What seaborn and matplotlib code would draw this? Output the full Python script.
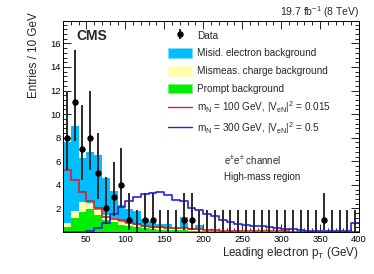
import numpy as np
import pandas as pd
import seaborn as sns
import matplotlib.pyplot as plt
import matplotlib.patches as mpatches
from matplotlib.lines import Line2D
from matplotlib.legend_handler import HandlerPatch
from matplotlib.ticker import MultipleLocator, FuncFormatter

# 10 GeV bins of leading electron pT (lower edges)
bin_lo = list(range(20, 400, 10))

# background components, entries per bin
misid = [6.9, 7.25, 3.75, 4.3, 4.6, 3.15, 2.35, 1.45, 1.25, 1.22,
         0.65, 0.5, 0.33, 0.35, 0.05, 0.98, 0.1, 0.4, 0.01, 0.0,
         0, 0, 0, 0, 0, 0, 0, 0, 0.01, 0,
         0, 0.01, 0.01, 0.04, 0.02, 0.02, 0.01, 0.02]
mismeas = [0.3, 0.55, 0.85, 0.5, 0.45, 0.45, 0.3, 0.25, 0.2, 0.18,
           0.15, 0.15, 0.15, 0.1, 0.1, 0.15, 0.08, 0.08, 0.06, 0.05,
           0.04, 0.04, 0.03, 0.03, 0.02, 0.02, 0.02, 0.02, 0.02, 0.02,
           0.02, 0.01, 0.01, 0.02, 0.02, 0.01, 0.01, 0.01]
prompt = [0.45, 1.2, 1.7, 1.95, 1.45, 1.0, 0.85, 0.6, 0.5, 0.4,
          0.3, 0.25, 0.2, 0.2, 0.15, 0.15, 0.12, 0.1, 0.08, 0.07,
          0.06, 0.05, 0.05, 0.04, 0.04, 0.03, 0.03, 0.03, 0.02, 0.02,
          0.02, 0.02, 0.02, 0.01, 0.01, 0.01, 0.01, 0.02]

# signal shapes
sig_100 = [5.25, 4.45, 3.4, 2.6, 2.0, 1.25, 1.1, 1.0, 0.85, 0.7,
           0.55, 0.45, 0.4, 0.35, 0.3, 0.3, 0.25, 0.25, 0.2, 0.15,
           0.12, 0.1, 0.1, 0.08, 0.07, 0.06, 0.05, 0.05, 0.05, 0.04,
           0.04, 0.04, 0.03, 0.03, 0.03, 0.03, 0.03, 0.04]
sig_300 = [0, 0, 0.02, 0.05, 0.3, 0.8, 1.5, 2.1, 2.6, 3.0,
           3.2, 3.3, 3.4, 3.15, 2.75, 2.6, 2.0, 1.85, 1.55, 1.33,
           1.05, 0.88, 0.7, 0.62, 0.52, 0.48, 0.4, 0.31, 0.25, 0.22,
           0.17, 0.12, 0.1, 0.09, 0.1, 0.08, 0.08, 0.8]

# observed events
data = [8, 11, 7, 8, 5, 2, 3, 4, 1, 0,
        1, 1, 0, 0, 0, 1, 1, 0, 0, 0,
        0, 0, 0, 0, 0, 0, 0, 0, 0, 0,
        0, 0, 0, 1, 0, 0, 0, 0]
# 68% Poisson intervals by observed count
pois_lo = [0, 0.173, 0.708, 1.367, 2.086, 2.840, 3.620, 4.419, 5.232, 6.057, 6.891, 7.734]
pois_hi = [1.841, 3.300, 4.638, 5.918, 7.163, 8.382, 9.584, 10.77, 11.95, 13.11, 14.27, 15.42]

c_misid, c_mismeas, c_prompt = '#00BEFF', '#FFFFAA', '#00EE00'
c_red, c_blue = '#E01E1E', '#2222E6'

sns.set_style('ticks')
plt.rcParams['font.family'] = ['Liberation Sans', 'DejaVu Sans']
plt.rcParams['mathtext.fontset'] = 'custom'
plt.rcParams['mathtext.rm'] = 'Liberation Sans'
plt.rcParams['mathtext.it'] = 'Liberation Sans:italic'
plt.rcParams['mathtext.bf'] = 'Liberation Sans:bold'

edges = bin_lo + [400]
centers = np.array(bin_lo) + 5

rows = []
for name, vals in [('Misid', misid), ('Mismeas', mismeas), ('Prompt', prompt)]:
    for x, w in zip(centers, vals):
        rows.append({'pt': x, 'w': w, 'proc': name})
bkg = pd.DataFrame(rows)

fig = plt.figure(figsize=(3.74, 2.74), dpi=100)
ax = fig.add_axes([63 / 374, 1 - 232 / 274, 296 / 374, 211 / 274])

sns.histplot(data=bkg, x='pt', weights='w', hue='proc',
             hue_order=['Misid', 'Mismeas', 'Prompt'], multiple='stack',
             bins=edges, element='step', fill=True, alpha=1, linewidth=0,
             palette=[c_misid, c_mismeas, c_prompt], legend=False, ax=ax)

sns.histplot(x=centers, weights=sig_100, bins=edges, element='step', fill=False,
             color=c_red, linewidth=1.2, ax=ax)
sns.histplot(x=centers, weights=sig_300, bins=edges, element='step', fill=False,
             color=c_blue, linewidth=1.2, ax=ax)

data = np.array(data)
lo = np.array([pois_lo[n] for n in data])
hi = np.array([pois_hi[n] for n in data])
zero = data == 0
ax.errorbar(centers[zero], data[zero], yerr=[data[zero] - lo[zero], hi[zero] - data[zero]],
            fmt='none', ecolor='#2a2a2a', elinewidth=1.4)
h_data = ax.errorbar(centers[~zero], data[~zero],
                     yerr=[data[~zero] - lo[~zero], hi[~zero] - data[~zero]],
                     fmt='o', color='black', ecolor='#2a2a2a', elinewidth=1.4,
                     markersize=3.6)

ax.set_xlim(20, 400)
ax.set_ylim(0, 17.9)
ax.xaxis.set_major_locator(MultipleLocator(50))
ax.xaxis.set_minor_locator(MultipleLocator(10))
ax.yaxis.set_major_locator(MultipleLocator(2))
ax.yaxis.set_minor_locator(MultipleLocator(0.4))
ax.yaxis.set_major_formatter(FuncFormatter(lambda v, p: '' if v == 0 else f'{v:g}'))
ax.tick_params(which='both', direction='in', top=True, right=True, width=0.6,
               labelsize=6.8, colors='black')
ax.tick_params(which='major', length=5.5)
ax.tick_params(which='minor', length=2.8)
ax.tick_params(axis='x', pad=2.5)
ax.tick_params(axis='y', pad=1.5)
for s in ax.spines.values():
    s.set_linewidth(0.7)
    s.set_color('black')

ax.set_xlabel('Leading electron p$_\\mathrm{T}$ (GeV)', fontsize=8.4, loc='right')
ax.xaxis.set_label_coords(1.0, -0.06)
ax.set_ylabel('Entries / 10 GeV', fontsize=8.4, loc='top')
ax.yaxis.set_label_coords(-0.078, 1.04)

ax.text(1.0, 1.024, '19.7 fb$^{-1}$ (8 TeV)', transform=ax.transAxes,
        ha='right', va='baseline', fontsize=7.5)
ax.text(0.044, 0.962, 'CMS', transform=ax.transAxes, ha='left', va='top',
        fontsize=10, fontweight='bold')
ax.text(0.544, 0.318, 'e$^{\\pm}$e$^{\\pm}$ channel', transform=ax.transAxes,
        ha='left', va='baseline', fontsize=7)
ax.text(0.544, 0.246, 'High-mass region', transform=ax.transAxes,
        ha='left', va='baseline', fontsize=7)


# legend boxes a bit shorter than the row height
def small_box(legend, orig_handle, xdescent, ydescent, width, height, fontsize):
    h = 0.75 * height
    return mpatches.Rectangle((-xdescent, -ydescent + (height - h) / 2), width, h)


handles = [
    h_data,
    mpatches.Patch(facecolor=c_misid, edgecolor='#7fdcff', linewidth=0.5),
    mpatches.Patch(facecolor=c_mismeas, edgecolor='#ffffd0', linewidth=0.5),
    mpatches.Patch(facecolor=c_prompt, edgecolor='#80f080', linewidth=0.5),
    Line2D([], [], color=c_red, linewidth=1.0),
    Line2D([], [], color=c_blue, linewidth=1.0),
]
labels = [
    'Data',
    'Misid. electron background',
    'Mismeas. charge background',
    'Prompt background',
    'm$_\\mathrm{N}$ = 100 GeV, |V$_\\mathrm{eN}$|$^\\mathrm{2}$ = 0.015',
    'm$_\\mathrm{N}$ = 300 GeV, |V$_\\mathrm{eN}$|$^\\mathrm{2}$ = 0.5',
]
ax.legend(handles, labels, loc='upper left', bbox_to_anchor=(0.355, 0.962),
          frameon=False, fontsize=7.2, handlelength=2.4, handleheight=1.6,
          labelspacing=0.48, handletextpad=0.5, borderpad=0, borderaxespad=0,
          handler_map={mpatches.Patch: HandlerPatch(patch_func=small_box)})

fig.savefig('out.png', dpi=100)
